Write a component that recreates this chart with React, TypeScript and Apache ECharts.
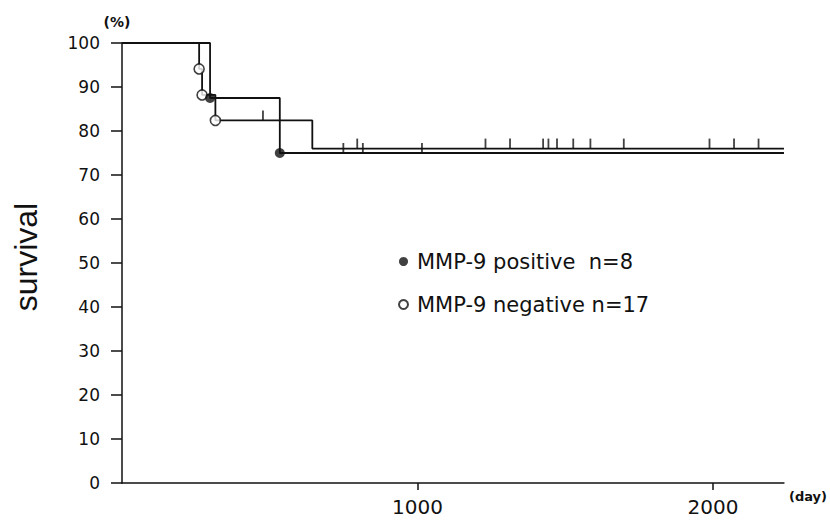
import React, { useEffect, useRef } from 'react';
import * as echarts from 'echarts';

// ---- data ----
const X_LABEL_DAYS = [1000, 2000];
const FOLLOW_UP_END = 2240;

const POS_NAME = 'MMP-9 positive  n=8';
const POS_EVENT_DAYS = [0, 298, 534];
const POS_SURVIVAL = [100, 87.5, 75.0];
const POS_MARKER_DAYS = [298, 534];
const POS_CENSOR_DAYS = [749, 815, 1015];

const NEG_NAME = 'MMP-9 negative n=17';
const NEG_EVENT_DAYS = [0, 261, 271, 316, 644];
const NEG_SURVIVAL = [100, 94.1, 88.2, 82.4, 76.0];
const NEG_MARKER_DAYS = [261, 271, 316];
const NEG_CENSOR_DAYS = [477, 796, 1230, 1313, 1425, 1443, 1472, 1527, 1585, 1698, 1988, 2071, 2154];

const INK = '#111';

function stepPoints(days: number[], surv: number[]) {
  const pts = days.map((d, i) => [d, surv[i]]);
  pts.push([FOLLOW_UP_END, surv[surv.length - 1]]);
  return pts;
}
function levelAt(days: number[], surv: number[], t: number) {
  let v = surv[0];
  for (let i = 0; i < days.length; i++) if (days[i] <= t) v = surv[i];
  return v;
}
function pointsOn(ts: number[], days: number[], surv: number[]) {
  return ts.map((t) => [t, levelAt(days, surv, t)]);
}

export default function App() {
  const ref = useRef<HTMLDivElement>(null);
  useEffect(() => {
    document.body.style.margin = '0';
    if (!ref.current) return;
    const chart = echarts.init(ref.current, null, { renderer: 'svg' });
    const tickStyle = {
      type: 'scatter' as const,
      symbol: 'rect',
      symbolSize: [1.8, 10],
      symbolOffset: [0, -5],
      itemStyle: { color: INK },
      silent: true,
      z: 3,
    };
    chart.setOption({
      animation: false,
      backgroundColor: '#fff',
      textStyle: { fontFamily: 'DejaVu Sans' },
      grid: { left: 122, right: 33, top: 43, bottom: 39, containLabel: false },
      xAxis: {
        type: 'value',
        min: 0,
        max: FOLLOW_UP_END,
        name: '(day)',
        nameLocation: 'end',
        nameGap: 5,
        nameTextStyle: { color: INK, fontSize: 13, fontWeight: 'bold', verticalAlign: 'top', padding: [7, 0, 0, 0] },
        axisLine: { show: true, lineStyle: { color: INK, width: 1.5 } },
        axisTick: { show: true, length: 7, customValues: X_LABEL_DAYS, lineStyle: { color: INK, width: 1.5 } },
        axisLabel: { customValues: X_LABEL_DAYS, color: INK, fontSize: 20, margin: 14, formatter: (v: number) => String(v) },
        splitLine: { show: false },
      },
      yAxis: {
        type: 'value',
        min: 0,
        max: 100,
        interval: 10,
        name: '(%)',
        nameLocation: 'end',
        nameGap: 14,
        nameTextStyle: { color: INK, fontSize: 14, fontWeight: 'bold', align: 'center', padding: [0, 10, 0, 0] },
        axisLine: { show: true, lineStyle: { color: INK, width: 1.5 } },
        axisTick: { show: true, length: 11, lineStyle: { color: INK, width: 1.5 } },
        axisLabel: { color: INK, fontSize: 17, margin: 22 },
        splitLine: { show: false },
      },
      legend: {
        orient: 'vertical',
        left: 393,
        top: 246,
        itemWidth: 9,
        itemHeight: 9,
        itemGap: 22,
        textStyle: { color: INK, fontSize: 21, fontFamily: 'DejaVu Sans', padding: [0, 0, 0, 4] },
        data: [
          { name: POS_NAME, icon: 'circle' },
          { name: NEG_NAME, icon: 'circle' },
        ],
        selectedMode: false,
      },
      graphic: [
        {
          type: 'text',
          x: 26,
          y: 257,
          rotation: Math.PI / 2,
          style: {
            text: 'survival',
            fontFamily: 'Liberation Sans',
            fontSize: 32,
            fill: INK,
            align: 'center',
            verticalAlign: 'middle',
          },
        },
      ],
      series: [
        {
          name: 'neg-line',
          type: 'line',
          step: 'end',
          data: stepPoints(NEG_EVENT_DAYS, NEG_SURVIVAL),
          showSymbol: false,
          lineStyle: { color: INK, width: 1.8 },
          silent: true,
          z: 2,
        },
        {
          name: 'pos-line',
          type: 'line',
          step: 'end',
          data: stepPoints(POS_EVENT_DAYS, POS_SURVIVAL),
          showSymbol: false,
          lineStyle: { color: INK, width: 1.8 },
          silent: true,
          z: 2,
        },
        { ...tickStyle, name: 'neg-censor', data: pointsOn(NEG_CENSOR_DAYS, NEG_EVENT_DAYS, NEG_SURVIVAL) },
        { ...tickStyle, name: 'pos-censor', data: pointsOn(POS_CENSOR_DAYS, POS_EVENT_DAYS, POS_SURVIVAL) },
        {
          name: NEG_NAME,
          type: 'scatter',
          symbol: 'circle',
          symbolSize: 10,
          data: pointsOn(NEG_MARKER_DAYS, NEG_EVENT_DAYS, NEG_SURVIVAL),
          itemStyle: { color: '#fff', borderColor: INK, borderWidth: 1.6 },
          z: 4,
        },
        {
          name: POS_NAME,
          type: 'scatter',
          symbol: 'circle',
          symbolSize: 10,
          data: pointsOn(POS_MARKER_DAYS, POS_EVENT_DAYS, POS_SURVIVAL),
          itemStyle: { color: INK },
          z: 5,
        },
      ],
    });
    return () => chart.dispose();
  }, []);
  return <div ref={ref} style={{ width: 830, height: 522 }} />;
}
